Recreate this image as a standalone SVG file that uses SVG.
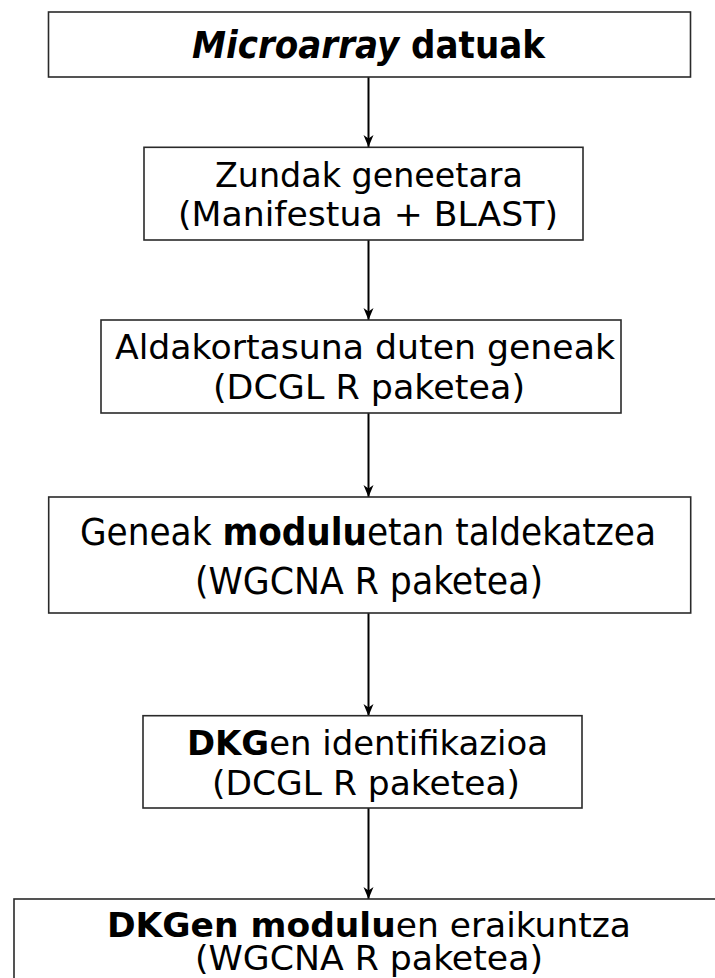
<svg xmlns="http://www.w3.org/2000/svg" width="715" height="978" viewBox="0 0 715 978">
<style>
.box{fill:#fff;stroke:#2a2a2a;stroke-width:1.6}
.t{font-family:"DejaVu Sans","Verdana",sans-serif;font-size:33px;fill:#000;text-anchor:middle}
.c{font-family:"DejaVu Sans","Verdana",sans-serif;font-stretch:condensed;font-size:37px;fill:#000;text-anchor:middle}
.s{font-size:33px}
.b{font-weight:bold}
.i{font-style:italic}
.conn{stroke:#000;stroke-width:2;fill:none}
</style>
<defs>
<marker id="ah" viewBox="0 0 12 12" refX="12" refY="6" markerWidth="12" markerHeight="12" markerUnits="userSpaceOnUse" orient="auto">
<path d="M0,1 L12,6 L0,11 L3.5,6 Z" fill="#000"/>
</marker>
</defs>
<rect width="715" height="978" fill="#fff"/>
<g id="connectors">
<line class="conn" x1="368.5" y1="77" x2="368.5" y2="147" marker-end="url(#ah)"/>
<line class="conn" x1="368.5" y1="240" x2="368.5" y2="320" marker-end="url(#ah)"/>
<line class="conn" x1="368.5" y1="413" x2="368.5" y2="497" marker-end="url(#ah)"/>
<line class="conn" x1="368.5" y1="613" x2="368.5" y2="716" marker-end="url(#ah)"/>
<line class="conn" x1="368.5" y1="808" x2="368.5" y2="899" marker-end="url(#ah)"/>
</g>
<g id="n1">
<rect class="box" x="48.5" y="12" width="642" height="65"/>
<text class="c b" x="368.5" y="57.5" textLength="353" lengthAdjust="spacingAndGlyphs"><tspan class="i">Microarray</tspan> datuak</text>
</g>
<g id="n2">
<rect class="box" x="144" y="147.3" width="439" height="92.7"/>
<text class="t" x="369" y="186.7" textLength="308" lengthAdjust="spacingAndGlyphs">Zundak geneetara</text>
<text class="t" x="368" y="225.5" textLength="380" lengthAdjust="spacingAndGlyphs">(Manifestua + BLAST)</text>
</g>
<g id="n3">
<rect class="box" x="101" y="320" width="520" height="93"/>
<text class="t" x="365" y="359.3" textLength="500" lengthAdjust="spacingAndGlyphs">Aldakortasuna duten geneak</text>
<text class="t" x="369" y="399" textLength="312" lengthAdjust="spacingAndGlyphs">(DCGL R paketea)</text>
</g>
<g id="n4">
<rect class="box" x="48.7" y="497" width="642" height="116"/>
<text class="c" x="368" y="545" textLength="576" lengthAdjust="spacingAndGlyphs">Geneak <tspan class="b">modulu</tspan>etan taldekatzea</text>
<text class="c" x="369" y="594" textLength="348" lengthAdjust="spacingAndGlyphs">(WGCNA R paketea)</text>
</g>
<g id="n5">
<rect class="box" x="143" y="715.7" width="439" height="92.3"/>
<text class="t" x="367.5" y="755" textLength="361" lengthAdjust="spacingAndGlyphs"><tspan class="b">DKG</tspan>en identifikazioa</text>
<text class="t" x="366" y="795" textLength="308" lengthAdjust="spacingAndGlyphs">(DCGL R paketea)</text>
</g>
<g id="n6">
<rect class="box" x="14" y="899" width="720" height="100"/>
<text class="c s" x="369" y="937" textLength="524" lengthAdjust="spacingAndGlyphs"><tspan class="b">DKGen modulu</tspan>en eraikuntza</text>
<text class="c s" x="369" y="970" textLength="348" lengthAdjust="spacingAndGlyphs">(WGCNA R paketea)</text>
</g>
</svg>
